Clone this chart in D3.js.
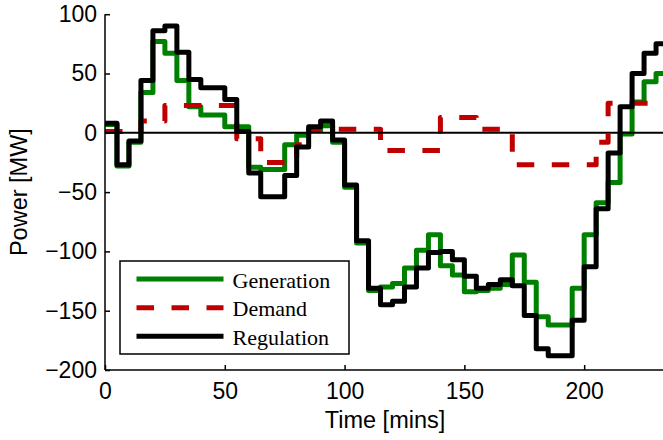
<!DOCTYPE html>
<html>
<head>
<meta charset="utf-8">
<script src="https://cdn.jsdelivr.net/npm/d3@7/dist/d3.min.js"></script>
<style>
  html, body { margin: 0; padding: 0; background: #fff; }
  svg { display: block; }
  .axis text { font-family: "Liberation Sans", Arial, sans-serif; font-size: 23px; fill: #000; }
  .axis path, .axis line { stroke: #000; stroke-width: 1.5; }
</style>
</head>
<body>
<svg id="chart" width="663" height="440"></svg>
<script>
// Time stamps (start of each 5-minute interval), in minutes
const time = [0, 5, 10, 15, 20, 25, 30, 35, 40, 45, 50, 55, 60, 65, 70, 75, 80, 85, 90, 95,
  100, 105, 110, 115, 120, 125, 130, 135, 140, 145, 150, 155, 160, 165, 170, 175, 180, 185,
  190, 195, 200, 205, 210, 215, 220, 225, 230];
const intervalEnd = 235;

// Power in MW for each interval
const generation = [7, -28, -8, 34, 77, 67, 44, 22, 15, 15, 5, 5, -29, -31, -31, -10, -2, 2, 6, -8,
  -46, -93, -133, -130, -127, -114, -99, -86, -112, -120, -134, -133, -131, -128, -103, -126, -155, -162,
  -162, -131, -86, -59, -42, -1, 26, 43, 50];
const demand = [1, 1, 1, 10, 10, 23, 23, 23, 23, 23, 23, -5, -5, -25, -25, -25, -10, 3, 3, 3,
  3, 3, 3, -15, -15, -15, -15, -15, 13, 13, 13, 3, 3, 3, -27, -27, -27, -27,
  -27, -27, -27, -8, 25, 25, 25, 25, 25];
const regulation = [8, -27, -7, 44, 86, 90, 68, 45, 38, 38, 28, 1, -34, -54, -54, -36, -12, 5, 10, -6,
  -44, -91, -131, -145, -142, -130, -114, -101, -100, -107, -121, -131, -128, -124, -129, -154, -182, -188,
  -188, -158, -113, -64, -17, 22, 50, 67, 75];

const seriesNames = ["Generation", "Demand", "Regulation"];
const xTicks = [0, 50, 100, 150, 200];
const yTicks = [-200, -150, -100, -50, 0, 50, 100];

const svg = d3.select("#chart");

const x = d3.scaleLinear().domain([0, 240]).range([105, 680]);
const y = d3.scaleLinear().domain([-200, 100]).range([370, 14.2]);

// plot area clip
svg.append("clipPath").attr("id", "plotClip")
  .append("rect").attr("x", 105).attr("y", 0).attr("width", 663 - 105).attr("height", 372);

function points(values) {
  const pts = time.map((t, i) => ({ t, v: values[i] }));
  pts.push({ t: intervalEnd, v: values[values.length - 1] });
  return pts;
}

const line = d3.line()
  .x(d => x(d.t))
  .y(d => y(d.v))
  .curve(d3.curveStepAfter);

const styles = [
  { data: generation, color: "#008000", dash: null },
  { data: demand, color: "#c00000", dash: "17.5,17.5" },
  { data: regulation, color: "#000000", dash: null }
];

const plot = svg.append("g").attr("clip-path", "url(#plotClip)");

styles.forEach(s => {
  plot.append("path")
    .datum(points(s.data))
    .attr("d", line)
    .attr("fill", "none")
    .attr("stroke", s.color)
    .attr("stroke-width", 5)
    .attr("stroke-linejoin", "round")
    .attr("stroke-dasharray", s.dash);
});

// zero reference line
plot.append("line")
  .attr("x1", x(0)).attr("x2", 663)
  .attr("y1", y(0)).attr("y2", y(0))
  .attr("stroke", "#000").attr("stroke-width", 2);

// axes with inward ticks
const yAxis = d3.axisLeft(y).tickValues(yTicks).tickSize(-5).tickPadding(8)
  .tickFormat(d => d < 0 ? "\u2212" + Math.abs(d) : String(d));
svg.append("g").attr("class", "axis").attr("transform", `translate(${x(0)},0)`).call(yAxis)
  .call(g => g.select(".domain").attr("d", `M0,${y(100)}V${y(-200)}`));

const xAxis = d3.axisBottom(x).tickValues(xTicks).tickSize(-5).tickPadding(13);
svg.append("g").attr("class", "axis").attr("transform", `translate(0,${y(-200)})`).call(xAxis)
  .call(g => g.select(".domain").attr("d", `M${x(0)},0H663`));

// axis titles
svg.append("text")
  .attr("x", 385).attr("y", 428)
  .attr("text-anchor", "middle")
  .style("font-family", "'Liberation Sans', Arial, sans-serif")
  .style("font-size", "23.5px")
  .text("Time [mins]");

svg.append("text")
  .attr("transform", `translate(27,${(y(100) + y(-200)) / 2}) rotate(-90)`)
  .attr("text-anchor", "middle")
  .style("font-family", "'Liberation Sans', Arial, sans-serif")
  .style("font-size", "23.5px")
  .text("Power [MW]");

// legend
const legend = svg.append("g");
legend.append("rect")
  .attr("x", 120).attr("y", 261).attr("width", 229).attr("height", 93)
  .attr("fill", "#fff").attr("stroke", "#000").attr("stroke-width", 1.5);

const rowY = [279, 307.7, 336.3];
styles.forEach((s, i) => {
  legend.append("line")
    .attr("x1", 136.5).attr("x2", 223.5)
    .attr("y1", rowY[i]).attr("y2", rowY[i])
    .attr("stroke", s.color).attr("stroke-width", 5)
    .attr("stroke-dasharray", s.dash);
  legend.append("text")
    .attr("x", 232.5).attr("y", rowY[i] + 8.5)
    .style("font-family", "'Liberation Serif', 'Times New Roman', serif")
    .style("font-size", "22px")
    .text(seriesNames[i]);
});
</script>
</body>
</html>
